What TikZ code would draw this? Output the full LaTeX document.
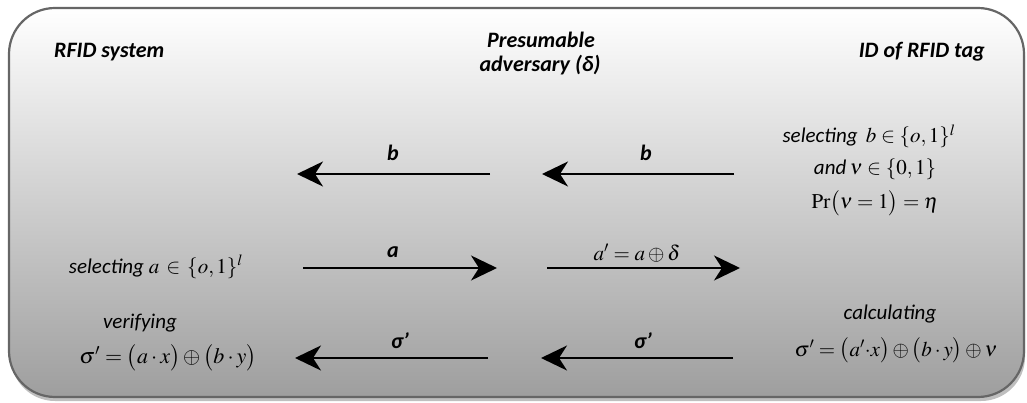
\documentclass[tikz,border=0pt]{standalone}
\usepackage{mathptmx}
\usepackage[no-math]{fontspec}
\setmainfont{Carlito}
\usetikzlibrary{arrows.meta}
\begin{document}
\begin{tikzpicture}[x=1pt,y=-1pt,
  head/.style={font=\fontsize{22}{25}\selectfont\bfseries\itshape, inner sep=0pt, align=center},
  lbl/.style={font=\fontsize{22}{25}\selectfont\bfseries\itshape, inner sep=0pt, anchor=base},
  txt/.style={font=\fontsize{21}{24}\selectfont\itshape, inner sep=0pt, anchor=base},
  upper/.style={text depth=2pt},
  lower/.style={text height=12pt},
  msg/.style={line width=2pt, -{Stealth[length=26pt,width=25pt,inset=8pt]}},
]
\useasboundingbox (0,0) rectangle (1027,403);

% panel with its shadow
\fill[black!25, rounded corners=44pt] (11,12) rectangle (1025,401);
\shade[top color=white, bottom color=black!38, draw=black!60, line width=2.2pt,
       rounded corners=46pt] (9,8) rectangle (1024,397);

% column headings
\node[head, anchor=base west] (sys) at (54,58) {RFID system};
\node[head, anchor=base east] (tag) at (985,58) {ID of RFID tag};
\node[lbl, upper] (adv1) at (541,48) {Presumable};
\node[lbl, lower] (adv2) at (540,72) {adversary (δ)};

% tag: choosing b and nu
\node[txt, upper] (tb1) at (869,143) {selecting \,$b\in\{o,1\}^{l}$};
\node[txt, upper, lower] (tb2) at (875,175) {and\,$\nu\in\{0,1\}$};
\node[txt, lower, font=\fontsize{21}{24}\selectfont] (tb3) at (875,209) {$\mathrm{Pr}\bigl(\nu=1\bigr)=\eta$};

% system: choosing a
\node[txt] (sa) at (156,273) {selecting $a\,\in\,\{o,1\}^{l}$};

% system: verification
\node[txt, upper] (sv1) at (140,328) {verifying};
\node[txt, lower, font=\fontsize{22}{25}\selectfont] (sv2) at (168,363) {$\sigma'=\bigl(a\cdot x\bigr)\oplus\bigl(b\cdot y\bigr)$};

% tag: response
\node[txt, upper] (tc1) at (890,319) {calculating};
\node[txt, lower] (tc2) at (896,356) {$\sigma'=\bigl(a'{\cdot}x\bigr)\oplus\bigl(b\cdot y\bigr)\oplus\nu$};

% message end points
\coordinate (b1s) at (490,174);  \coordinate (b1e) at (297,174);
\coordinate (b2s) at (734,174);  \coordinate (b2e) at (542,174);
\coordinate (a1s) at (303,268);  \coordinate (a1e) at (497,268);
\coordinate (a2s) at (547,268);  \coordinate (a2e) at (740,268);
\coordinate (s1s) at (488,358);  \coordinate (s1e) at (295,358);
\coordinate (s2s) at (733,358);  \coordinate (s2e) at (541,358);

% messages
\draw[msg] (b1s) -- (b1e);
\draw[msg] (b2s) -- (b2e);
\draw[msg] (a1s) -- (a1e);
\draw[msg] (a2s) -- (a2e);
\draw[msg] (s1s) -- (s1e);
\draw[msg] (s2s) -- (s2e);

% message labels
\node[lbl] (lb1) at (393,161) {b};
\node[lbl] (lb2) at (646,161) {b};
\node[lbl] (la1) at (393,258) {a};
\node[txt, font=\fontsize{21}{24}\selectfont] (la2) at (637,260) {$a'=a\oplus\delta$};
\node[lbl] (ls1) at (400,348) {σ’};
\node[lbl] (ls2) at (643,348) {σ’};
\end{tikzpicture}
\end{document}
